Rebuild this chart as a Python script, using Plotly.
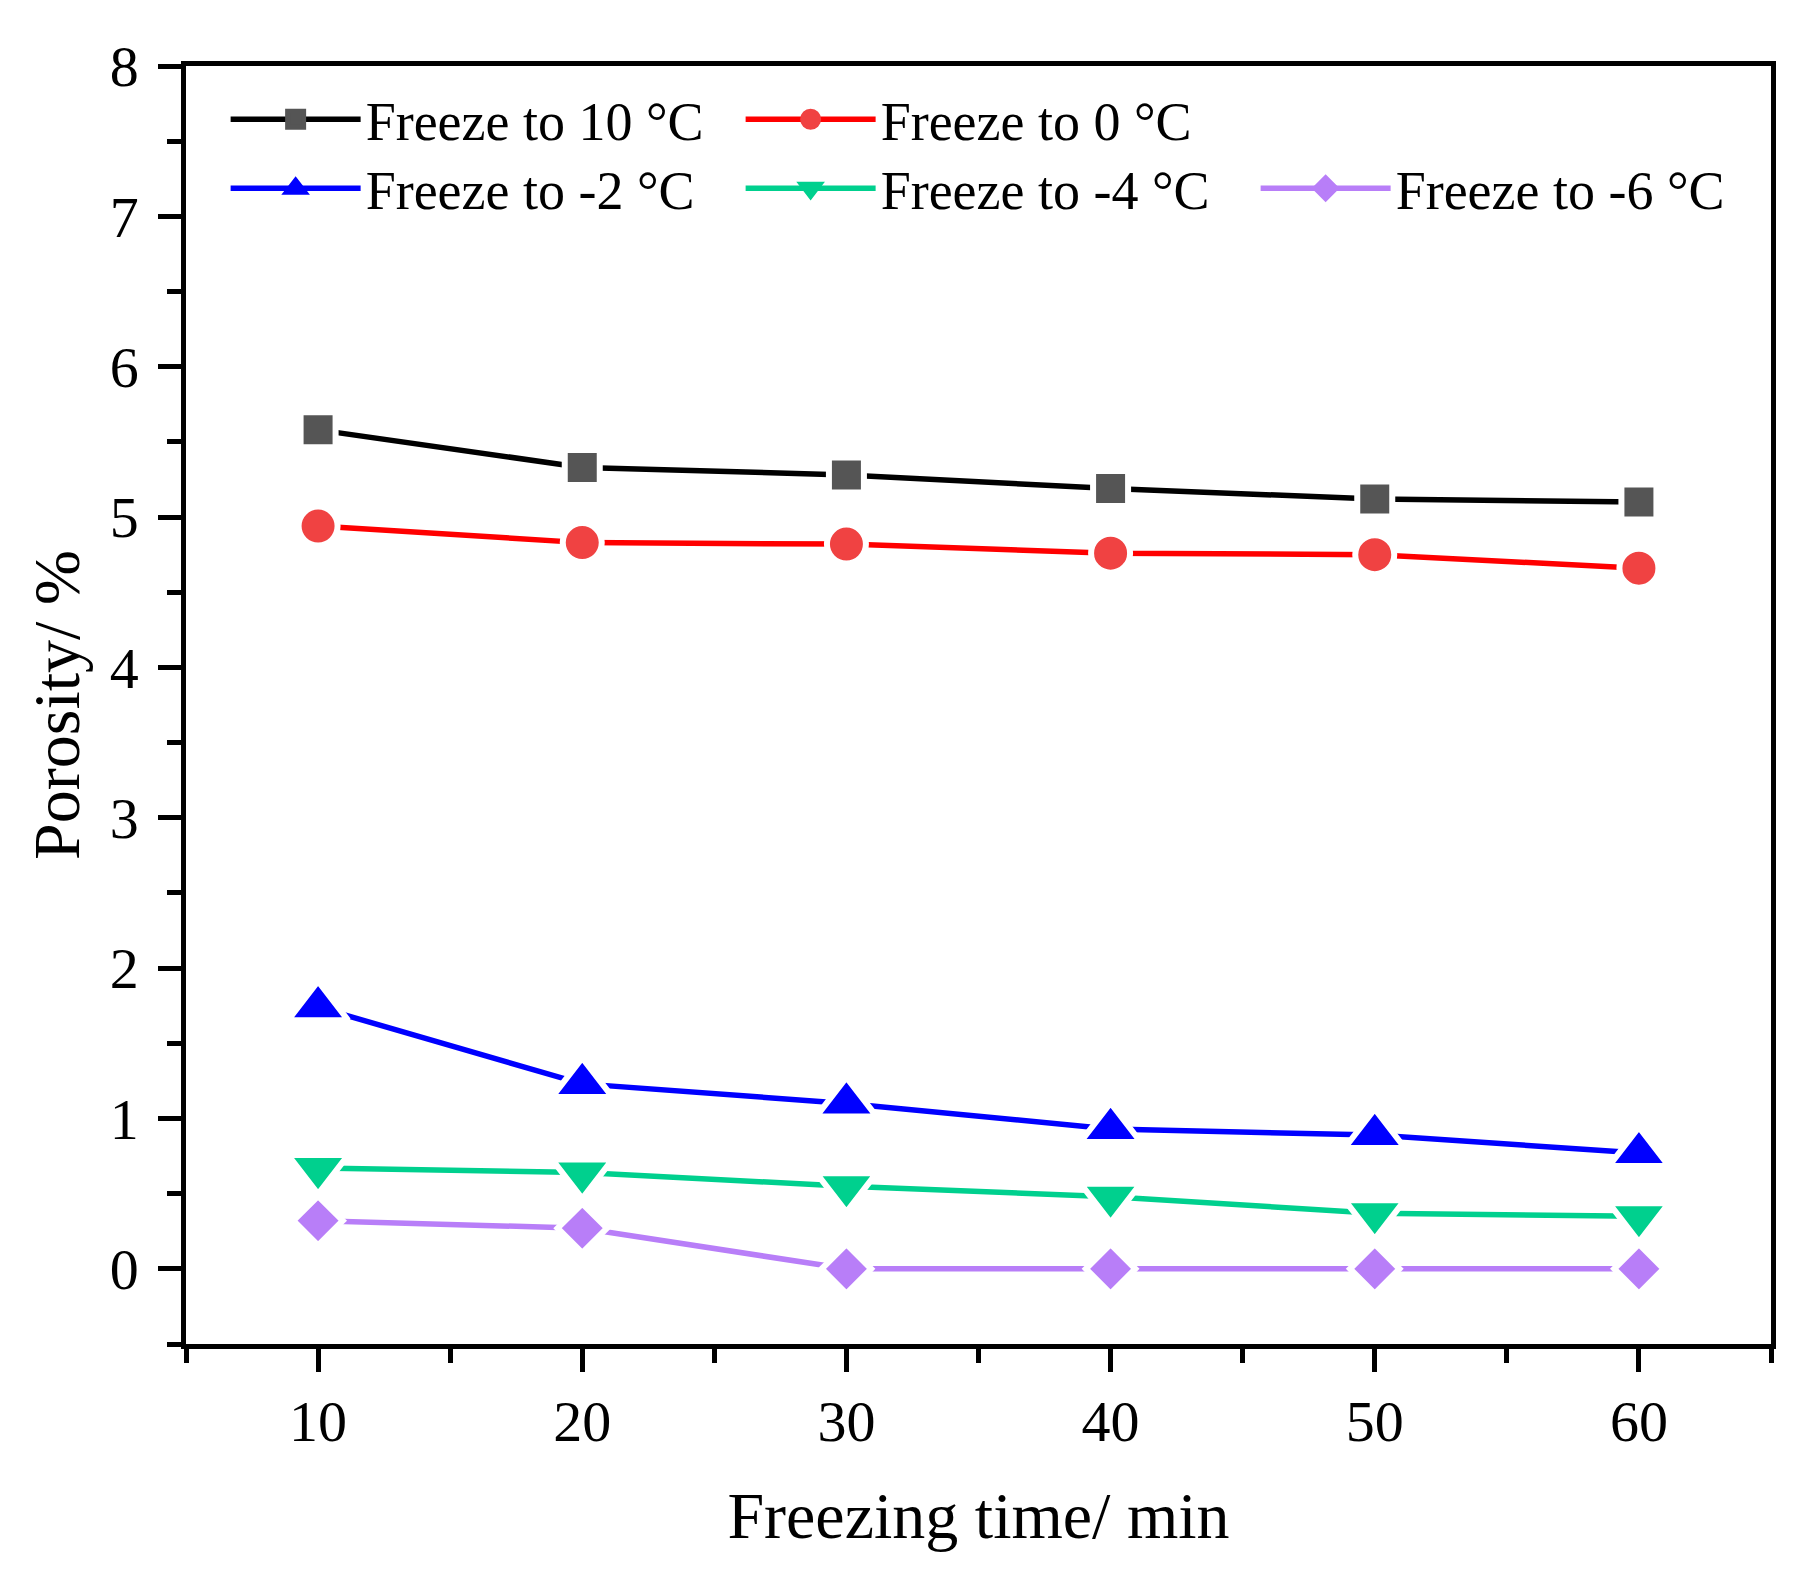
import plotly.graph_objects as go

time_min = [10, 20, 30, 40, 50, 60]
freeze_10 = [5.58, 5.33, 5.28, 5.19, 5.12, 5.10]
freeze_0 = [4.94, 4.83, 4.82, 4.76, 4.75, 4.66]
freeze_m2 = [1.74, 1.23, 1.10, 0.93, 0.89, 0.77]
freeze_m4 = [0.67, 0.64, 0.55, 0.48, 0.37, 0.35]
freeze_m6 = [0.32, 0.27, 0.0, 0.0, 0.0, 0.0]

names = ["Freeze to 10 °C", "Freeze to 0 °C", "Freeze to -2 °C",
         "Freeze to -4 °C", "Freeze to -6 °C"]
series = [freeze_10, freeze_0, freeze_m2, freeze_m4, freeze_m6]
line_colors = ["#000000", "#ff0000", "#0000ff", "#00d08e", "#b87ef8"]
marker_colors = ["#555555", "#f04242", "#0000ff", "#00d08e", "#b87ef8"]
symbols = ["square", "circle", "triangle-up", "triangle-down", "diamond"]
sizes = [35, 39, 52, 52, 38]
legends = ["legend", "legend", "legend2", "legend2", "legend2"]

FONT = "Liberation Serif, Times New Roman, serif"

fig = go.Figure()
# data traces (white marker outline gives the gap between line and marker)
for nm, ys, lc, mc, sym, sz in zip(names, series, line_colors, marker_colors,
                                   symbols, sizes):
    fig.add_trace(go.Scatter(
        x=time_min, y=ys, name=nm, mode="lines+markers",
        line=dict(color=lc, width=5.5),
        marker=dict(symbol=sym, size=sz, color=mc,
                    line=dict(color="white", width=6)),
        showlegend=False,
    ))
# legend entries
for nm, lc, mc, sym, lg in zip(names, line_colors, marker_colors, symbols, legends):
    fig.add_trace(go.Scatter(
        x=[None], y=[None], name=nm, mode="lines+markers",
        line=dict(color=lc, width=5.5),
        marker=dict(symbol=sym, size=16, color=mc, line=dict(color=mc, width=5)),
        legend=lg, showlegend=True,
    ))

axis_common = dict(
    showline=True, linecolor="black", linewidth=4.5, mirror=True,
    ticks="outside", ticklen=23, tickwidth=4.5, tickcolor="black",
    showgrid=False, zeroline=False,
    tickfont=dict(family=FONT, size=58, color="black"),
)

fig.update_xaxes(
    range=[5, 65], tickmode="linear", tick0=10, dtick=10,
    minor=dict(ticks="outside", ticklen=14, tickwidth=4.5, dtick=5, tick0=5,
               tickcolor="black"),
    title=dict(text="Freezing time/ min", font=dict(family=FONT, size=66, color="black"),
               standoff=40),
    **axis_common,
)
fig.update_yaxes(
    range=[-0.5, 8], tickmode="linear", tick0=0, dtick=1,
    minor=dict(ticks="outside", ticklen=14, tickwidth=4.5, dtick=0.5, tick0=0,
               tickcolor="black"),
    title=dict(text="Porosity/ %", font=dict(family=FONT, size=66, color="black"),
               standoff=10),
    ticklabelstandoff=8,
    **axis_common,
)

legend_common = dict(
    orientation="h", xanchor="left", yanchor="middle",
    font=dict(family=FONT, size=54, color="black"),
    bgcolor="rgba(0,0,0,0)", itemwidth=130,
    entrywidth=370, entrywidthmode="pixels",
    itemsizing="trace",
)
fig.update_layout(
    width=1811, height=1576,
    margin=dict(l=178, r=48, t=58, b=240),
    paper_bgcolor="white", plot_bgcolor="white",
    showlegend=True,
    legend=dict(x=0.025, y=0.958, **legend_common),
    legend2=dict(x=0.025, y=0.904, **legend_common),
)

fig.write_html("out.html")
